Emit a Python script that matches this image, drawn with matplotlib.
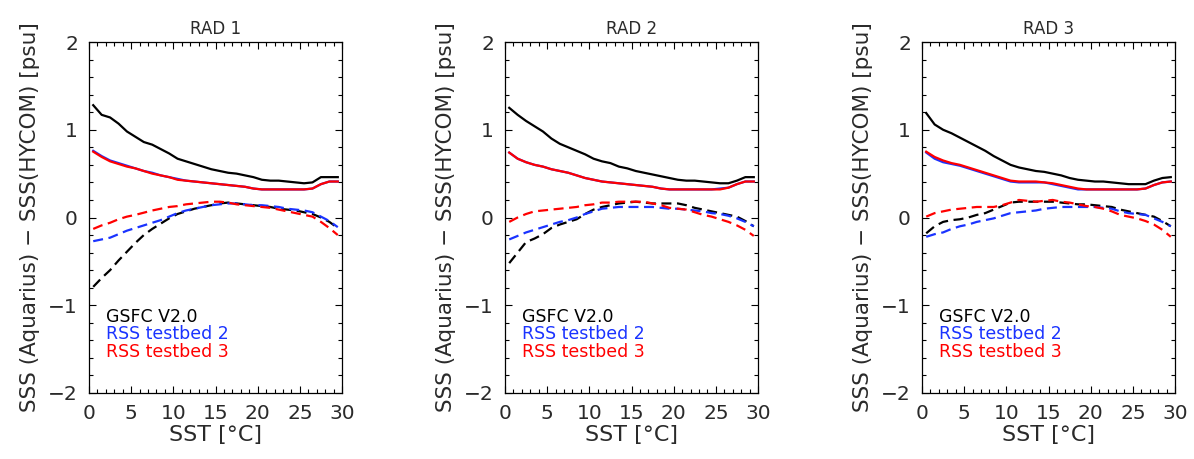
import numpy as np
import matplotlib.pyplot as plt
from matplotlib.ticker import MultipleLocator

# SST bin centres [degC]
sst = np.arange(0.5, 30.0, 1.0)

panel_titles = ["RAD 1", "RAD 2", "RAD 3"]
legend_labels = ["GSFC V2.0", "RSS testbed 2", "RSS testbed 3"]
series_colors = ["black", "#1a33ff", "#ff0000"]

# --- RAD 1 ---
rad1_gsfc_solid = [1.28, 1.17, 1.14, 1.07, 0.98, 0.92, 0.86, 0.83, 0.78, 0.73,
                   0.67, 0.64, 0.61, 0.58, 0.55, 0.53, 0.51, 0.50, 0.48, 0.46,
                   0.43, 0.42, 0.42, 0.41, 0.40, 0.39, 0.40, 0.46, 0.46, 0.46]
rad1_tb2_solid = [0.76, 0.70, 0.65, 0.62, 0.59, 0.56, 0.53, 0.51, 0.48, 0.46,
                  0.44, 0.42, 0.41, 0.40, 0.39, 0.38, 0.37, 0.36, 0.35, 0.33,
                  0.32, 0.32, 0.32, 0.32, 0.32, 0.32, 0.33, 0.38, 0.41, 0.41]
rad1_tb3_solid = [0.75, 0.69, 0.64, 0.61, 0.58, 0.56, 0.53, 0.50, 0.48, 0.46,
                  0.43, 0.42, 0.41, 0.40, 0.39, 0.38, 0.37, 0.36, 0.35, 0.33,
                  0.32, 0.32, 0.32, 0.32, 0.32, 0.32, 0.33, 0.38, 0.41, 0.41]
rad1_gsfc_dash = [-0.79, -0.69, -0.60, -0.49, -0.39, -0.29, -0.20, -0.13, -0.07, -0.01,
                  0.04, 0.07, 0.10, 0.12, 0.14, 0.16, 0.17, 0.16, 0.15, 0.14,
                  0.13, 0.12, 0.10, 0.09, 0.08, 0.06, 0.04, 0.00, -0.05, -0.12]
rad1_tb2_dash = [-0.27, -0.25, -0.23, -0.19, -0.15, -0.12, -0.09, -0.06, -0.03, 0.01,
                 0.05, 0.08, 0.10, 0.12, 0.14, 0.15, 0.16, 0.16, 0.15, 0.14,
                 0.14, 0.13, 0.12, 0.10, 0.09, 0.08, 0.06, 0.01, -0.04, -0.11]
rad1_tb3_dash = [-0.13, -0.09, -0.06, -0.02, 0.01, 0.03, 0.055, 0.08, 0.10, 0.12,
                 0.13, 0.15, 0.16, 0.17, 0.18, 0.18, 0.17, 0.15, 0.14, 0.13,
                 0.12, 0.11, 0.09, 0.07, 0.05, 0.03, 0.01, -0.05, -0.12, -0.20]

# --- RAD 2 ---
rad2_gsfc_solid = [1.25, 1.17, 1.10, 1.04, 0.98, 0.90, 0.84, 0.80, 0.76, 0.72,
                   0.67, 0.64, 0.62, 0.58, 0.56, 0.53, 0.51, 0.49, 0.47, 0.45,
                   0.43, 0.42, 0.42, 0.41, 0.40, 0.39, 0.39, 0.42, 0.46, 0.46]
rad2_tb2_solid = [0.74, 0.67, 0.63, 0.60, 0.58, 0.55, 0.53, 0.51, 0.48, 0.45,
                  0.43, 0.41, 0.40, 0.39, 0.38, 0.37, 0.36, 0.35, 0.33, 0.32,
                  0.32, 0.32, 0.32, 0.32, 0.32, 0.33, 0.34, 0.38, 0.41, 0.41]
rad2_tb3_solid = [0.74, 0.67, 0.63, 0.60, 0.58, 0.55, 0.53, 0.51, 0.48, 0.45,
                  0.43, 0.41, 0.40, 0.39, 0.38, 0.37, 0.36, 0.35, 0.33, 0.32,
                  0.32, 0.32, 0.32, 0.32, 0.32, 0.32, 0.34, 0.38, 0.41, 0.41]
rad2_gsfc_dash = [-0.52, -0.40, -0.28, -0.24, -0.19, -0.12, -0.08, -0.05, -0.02, 0.04,
                  0.09, 0.12, 0.14, 0.16, 0.17, 0.18, 0.17, 0.16, 0.16, 0.16,
                  0.16, 0.14, 0.11, 0.09, 0.07, 0.05, 0.03, 0.01, -0.04, -0.10]
rad2_tb2_dash = [-0.25, -0.21, -0.17, -0.14, -0.11, -0.08, -0.05, -0.03, 0.00, 0.04,
                 0.07, 0.10, 0.11, 0.12, 0.12, 0.12, 0.12, 0.12, 0.11, 0.10,
                 0.10, 0.09, 0.08, 0.07, 0.05, 0.04, 0.02, -0.01, -0.05, -0.10]
rad2_tb3_dash = [-0.05, 0.00, 0.04, 0.07, 0.08, 0.09, 0.10, 0.11, 0.12, 0.14,
                 0.15, 0.17, 0.17, 0.18, 0.18, 0.18, 0.18, 0.16, 0.14, 0.11,
                 0.10, 0.09, 0.06, 0.03, 0.01, -0.02, -0.05, -0.09, -0.14, -0.21]

# --- RAD 3 ---
rad3_gsfc_solid = [1.19, 1.06, 1.00, 0.96, 0.91, 0.86, 0.81, 0.76, 0.70, 0.65,
                   0.60, 0.57, 0.55, 0.53, 0.52, 0.50, 0.48, 0.45, 0.43, 0.42,
                   0.41, 0.41, 0.40, 0.39, 0.38, 0.38, 0.38, 0.42, 0.45, 0.46]
rad3_tb2_solid = [0.74, 0.67, 0.63, 0.61, 0.59, 0.56, 0.53, 0.50, 0.47, 0.44,
                  0.41, 0.40, 0.40, 0.40, 0.40, 0.38, 0.36, 0.34, 0.32, 0.32,
                  0.32, 0.32, 0.32, 0.32, 0.32, 0.32, 0.33, 0.37, 0.40, 0.41]
rad3_tb3_solid = [0.75, 0.69, 0.65, 0.62, 0.60, 0.57, 0.54, 0.51, 0.48, 0.45,
                  0.42, 0.41, 0.41, 0.41, 0.40, 0.39, 0.37, 0.35, 0.33, 0.32,
                  0.32, 0.32, 0.32, 0.32, 0.32, 0.32, 0.33, 0.37, 0.40, 0.41]
rad3_gsfc_dash = [-0.18, -0.10, -0.05, -0.03, -0.02, 0.00, 0.03, 0.05, 0.09, 0.13,
                  0.17, 0.18, 0.18, 0.18, 0.18, 0.18, 0.17, 0.16, 0.15, 0.15,
                  0.14, 0.13, 0.12, 0.09, 0.07, 0.05, 0.03, 0.01, -0.04, -0.10]
rad3_tb2_dash = [-0.22, -0.19, -0.17, -0.13, -0.10, -0.08, -0.05, -0.03, -0.01, 0.02,
                 0.05, 0.06, 0.07, 0.08, 0.10, 0.11, 0.12, 0.12, 0.12, 0.12,
                 0.12, 0.11, 0.10, 0.07, 0.05, 0.04, 0.03, -0.01, -0.05, -0.10]
rad3_tb3_dash = [0.01, 0.05, 0.07, 0.09, 0.10, 0.11, 0.12, 0.12, 0.12, 0.14,
                 0.17, 0.20, 0.19, 0.18, 0.19, 0.20, 0.18, 0.17, 0.15, 0.13,
                 0.12, 0.10, 0.07, 0.03, 0.01, -0.01, -0.04, -0.08, -0.14, -0.22]

panels = [
    ([rad1_gsfc_solid, rad1_tb2_solid, rad1_tb3_solid],
     [rad1_gsfc_dash, rad1_tb2_dash, rad1_tb3_dash]),
    ([rad2_gsfc_solid, rad2_tb2_solid, rad2_tb3_solid],
     [rad2_gsfc_dash, rad2_tb2_dash, rad2_tb3_dash]),
    ([rad3_gsfc_solid, rad3_tb2_solid, rad3_tb3_solid],
     [rad3_gsfc_dash, rad3_tb2_dash, rad3_tb3_dash]),
]

plt.rcParams["font.family"] = ["DejaVu Sans"]

fig = plt.figure(figsize=(11.94, 4.59), dpi=100)
lefts = [89 / 1194, 505 / 1194, 922 / 1194]
width = 253 / 1194
bottom = 66 / 459
height = 351 / 459

txt_col = "#2a2a2a"

for left, title, (solids, dashes) in zip(lefts, panel_titles, panels):
    ax = fig.add_axes([left, bottom, width, height])
    # solid and dashed curves per product
    for vals, col in zip(solids, series_colors):
        ax.plot(sst, vals, color=col, lw=1.6)
    for vals, col in zip(dashes, series_colors):
        ax.plot(sst, vals, color=col, lw=1.6, dashes=(4.5, 2.5))

    ax.set_xlim(0, 30)
    ax.set_ylim(-2, 2)
    ax.xaxis.set_major_locator(MultipleLocator(5))
    ax.xaxis.set_minor_locator(MultipleLocator(1))
    ax.yaxis.set_major_locator(MultipleLocator(1))
    ax.yaxis.set_minor_locator(MultipleLocator(0.2))
    ax.tick_params(which="both", direction="in", top=True, right=True,
                   labelsize=14.5, labelcolor=txt_col, width=0.8, pad=8)
    ax.tick_params(which="major", length=5)
    ax.tick_params(which="minor", length=3)
    for sp in ax.spines.values():
        sp.set_linewidth(0.9)

    ax.set_title(title, fontsize=12, color=txt_col, pad=6)
    ax.set_xlabel("SST [°C]", fontsize=16, color=txt_col, labelpad=1)
    ax.set_ylabel("SSS (Aquarius) \u2212 SSS(HYCOM) [psu]", fontsize=15.5,
                  color=txt_col, labelpad=6)

    for i, (lab, col) in enumerate(zip(legend_labels, series_colors)):
        ax.text(2.0, -1.13 - 0.2 * i, lab, color=col, fontsize=12.5,
                va="center", ha="left")

fig.savefig("out.png", dpi=100)
